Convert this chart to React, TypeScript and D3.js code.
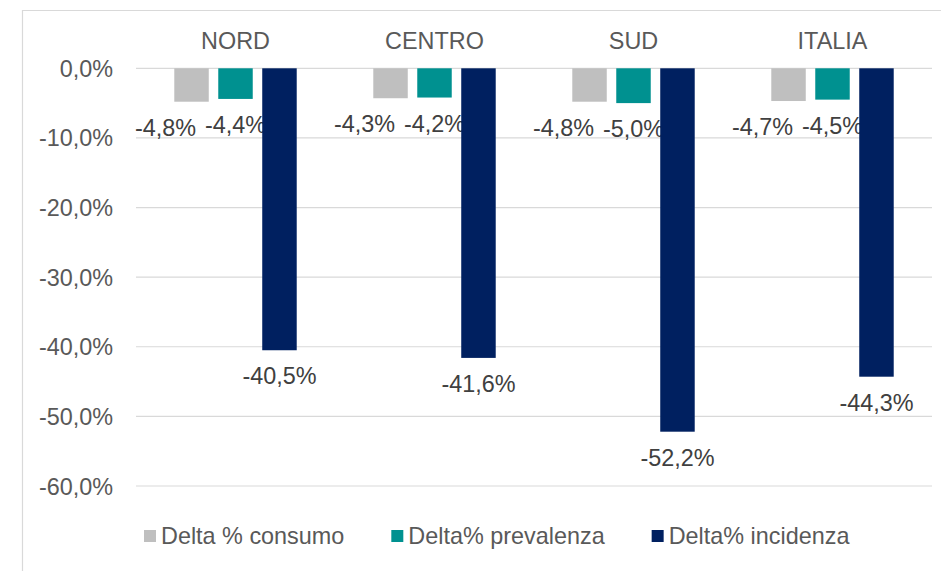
import React, { useRef, useEffect } from 'react';
import * as d3 from 'd3';

const categories = ['NORD', 'CENTRO', 'SUD', 'ITALIA'];
const seriesNames = ['Delta % consumo', 'Delta% prevalenza', 'Delta% incidenza'];
const consumo = [-4.8, -4.3, -4.8, -4.7];
const prevalenza = [-4.4, -4.2, -5.0, -4.5];
const incidenza = [-40.5, -41.6, -52.2, -44.3];
const yTicks = [0, -10, -20, -30, -40, -50, -60];

const colors = ['#BFBFBF', '#009190', '#002060'];
const FONT = '"Liberation Sans", Arial, sans-serif';

const App: React.FC = () => {
  const svgRef = useRef<SVGSVGElement>(null);

  useEffect(() => {
    if (!svgRef.current) return;
    const svg = d3.select(svgRef.current);
    svg.selectAll('*').remove();

    const width = 941;
    const height = 571;
    const plot = { left: 136, right: 932, top: 68.3, bottom: 486 };
    const values = [consumo, prevalenza, incidenza];

    // chart frame
    svg.append('path')
      .attr('d', `M22.5,${height} V10.5 H${width}`)
      .attr('fill', 'none')
      .attr('stroke', '#D9D9D9')
      .attr('stroke-width', 1.2);

    const x0 = d3.scaleBand<string>()
      .domain(categories)
      .range([plot.left, plot.right])
      .paddingInner(0.337)
      .paddingOuter(0.1685);
    const x1 = d3.scaleBand<string>()
      .domain(seriesNames)
      .range([0, x0.bandwidth()])
      .paddingInner(0.216)
      .paddingOuter(0.108);
    const y = d3.scaleLinear().domain([-60, 0]).range([plot.bottom, plot.top]);

    // Italian style: comma decimal, plain hyphen minus
    const fmt = (v: number) => (v === 0 ? '0,0' : v.toFixed(1).replace('.', ',')) + '%';

    // gridlines
    svg.append('g')
      .selectAll('line')
      .data(yTicks)
      .enter()
      .append('line')
      .attr('x1', plot.left)
      .attr('x2', plot.right)
      .attr('y1', d => y(d))
      .attr('y2', d => y(d))
      .attr('stroke', '#D9D9D9')
      .attr('stroke-width', 1.2);

    // y tick labels
    svg.append('g')
      .selectAll('text')
      .data(yTicks)
      .enter()
      .append('text')
      .attr('x', 113)
      .attr('y', d => y(d) + 8.5)
      .attr('text-anchor', 'end')
      .attr('font-family', FONT)
      .attr('font-size', 23.4)
      .attr('fill', '#595959')
      .text(d => fmt(d));

    // category labels on top
    svg.append('g')
      .selectAll('text')
      .data(categories)
      .enter()
      .append('text')
      .attr('x', d => x0(d)! + x0.bandwidth() / 2)
      .attr('y', 48.5)
      .attr('text-anchor', 'middle')
      .attr('font-family', FONT)
      .attr('font-size', 23.4)
      .attr('fill', '#595959')
      .text(d => d);

    // bars
    seriesNames.forEach((s, si) => {
      const g = svg.append('g');
      g.selectAll('rect')
        .data(categories)
        .enter()
        .append('rect')
        .attr('x', d => x0(d)! + x1(s)!)
        .attr('y', y(0))
        .attr('width', x1.bandwidth())
        .attr('height', (d, i) => y(values[si][i]) - y(0))
        .attr('fill', colors[si]);

      // labels (first series nudged left like Excel does to avoid overlaps)
      const dx = si === 0 ? -26 : 0;
      g.selectAll('text')
        .data(categories)
        .enter()
        .append('text')
        .attr('x', d => x0(d)! + x1(s)! + x1.bandwidth() / 2 + dx)
        .attr('y', (d, i) => y(values[si][i]) + 34)
        .attr('text-anchor', 'middle')
        .attr('font-family', FONT)
        .attr('font-size', 23.4)
        .attr('fill', '#404040')
        .text((d, i) => fmt(values[si][i]));
    });

    // legend
    const legend = svg.append('g');
    let lx = 144;
    seriesNames.forEach((s, si) => {
      legend.append('rect')
        .attr('x', lx)
        .attr('y', 530)
        .attr('width', 12)
        .attr('height', 12)
        .attr('fill', colors[si]);
      const t = legend.append('text')
        .attr('x', lx + 17)
        .attr('y', 544)
        .attr('font-family', FONT)
        .attr('font-size', 23.4)
        .attr('fill', '#595959')
        .text(s);
      const w = (t.node() as SVGTextElement).getComputedTextLength();
      lx += 17 + w + 47;
    });
  }, []);

  return (
    <svg
      ref={svgRef}
      width={941}
      height={571}
      style={{ position: 'absolute', left: 0, top: 0, background: '#fff' }}
    />
  );
};

export default App;
